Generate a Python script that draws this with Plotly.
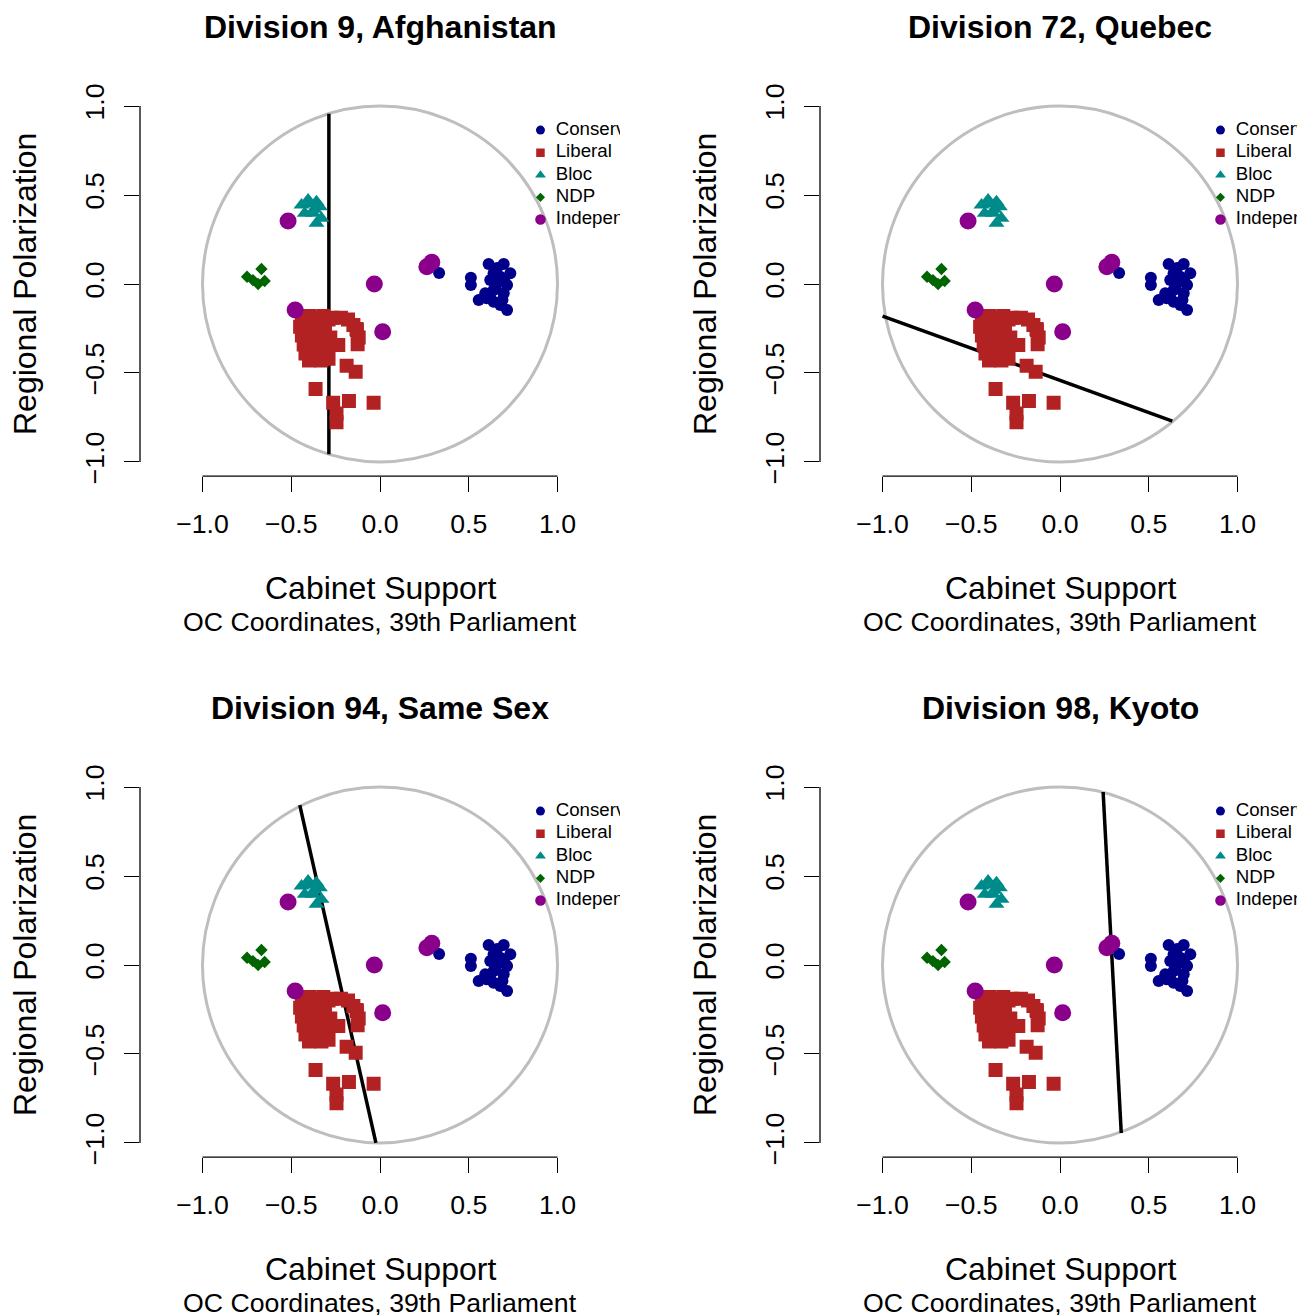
import plotly.graph_objects as go

W, H = 1305, 1315
FONT = "Liberation Sans, Arial, Helvetica, sans-serif"

# ---------------- data ----------------
parties = ["Conservative", "Liberal", "Bloc", "NDP", "Independent"]
party_colors = ["#00008B", "#B22222", "#008B8B", "#006400", "#8B008B"]
party_symbols = ["circle", "square", "triangle-up", "diamond", "circle"]

cons_x = [0.333, 0.512, 0.512, 0.612, 0.697, 0.734, 0.640, 0.659, 0.716, 0.697,
          0.593, 0.556, 0.640, 0.716, 0.678, 0.621, 0.678, 0.640, 0.660, 0.700,
          0.620, 0.690, 0.650, 0.600]
cons_y = [0.062, 0.035, -0.006, 0.112, 0.112, 0.060, 0.060, 0.004, -0.006, -0.052,
          -0.052, -0.090, -0.100, -0.146, -0.118, 0.022, 0.041, -0.034, 0.090, 0.020,
          -0.070, -0.090, -0.020, -0.080]

lib_x = [-0.44, -0.40, -0.36, -0.32, -0.45, -0.41, -0.37, -0.33, -0.29, -0.44,
         -0.40, -0.36, -0.31, -0.43, -0.39, -0.35, -0.31, -0.28, -0.42, -0.38,
         -0.34, -0.30, -0.40, -0.33, -0.29, -0.27, -0.22, -0.18, -0.15, -0.13,
         -0.12, -0.235, -0.126, -0.132, -0.188, -0.137, -0.363, -0.264, -0.175, -0.036,
         -0.245, -0.245]
lib_y = [-0.19, -0.18, -0.19, -0.18, -0.24, -0.23, -0.24, -0.22, -0.20, -0.29,
         -0.28, -0.29, -0.27, -0.34, -0.33, -0.34, -0.33, -0.30, -0.39, -0.38,
         -0.40, -0.38, -0.43, -0.43, -0.42, -0.19, -0.19, -0.20, -0.23, -0.26,
         -0.30, -0.343, -0.339, -0.253, -0.459, -0.493, -0.590, -0.667, -0.657, -0.667,
         -0.727, -0.777]

bloc_x = [-0.405, -0.442, -0.358, -0.339, -0.424, -0.377, -0.358, -0.330, -0.390, -0.370]
bloc_y = [0.472, 0.444, 0.462, 0.434, 0.397, 0.397, 0.341, 0.369, 0.450, 0.420]

ndp_x = [-0.668, -0.749, -0.716, -0.687, -0.650]
ndp_y = [0.084, 0.041, 0.022, 0.000, 0.017]

ind_x = [-0.518, 0.292, 0.264, -0.032, -0.478, 0.015]
ind_y = [0.354, 0.122, 0.097, 0.000, -0.146, -0.268]

party_x = [cons_x, lib_x, bloc_x, ndp_x, ind_x]
party_y = [cons_y, lib_y, bloc_y, ndp_y, ind_y]

division_titles = ["Division 9, Afghanistan", "Division 72, Quebec",
                   "Division 94, Same Sex", "Division 98, Kyoto"]
# cutting line endpoints (OC coordinates)
cut_x0 = [-0.288, -1.000, -0.452, 0.243]
cut_y0 = [0.957, -0.180, 0.899, 0.972]
cut_x1 = [-0.288, 0.633, -0.023, 0.345]
cut_y1 = [-0.957, -0.770, -1.000, -0.944]

tick_vals = [-1.0, -0.5, 0.0, 0.5, 1.0]
x_title = "Cabinet Support"
x_subtitle = "OC Coordinates, 39th Parliament"
y_title = "Regional Polarization"

# ---------------- styles ----------------
marker_sizes = [12, 14, 14, 9.5, 17]
legend_marker_sizes = [9, 8.5, 9.5, 7, 10.5]
legend_marker_x = 0.904
legend_text_x = 0.99
legend_row_y = [0.865, 0.738, 0.612, 0.487, 0.362]

# page offset / effective drawing frame observed in the renderer
OFF_X, OFF_Y = 8, 16
EFF_H = H - OFF_Y

panel_px0 = [140, 820, 140, 820]
panel_pyt = [91.8, 91.8, 772.8, 772.8]
panel_extra_right = [0, 4, 0, 4]
PW, PH = 480, 384.4
SCALE = 177.5
XR = PW / 2 / SCALE
YR = 1.08


def fx(px):
    return (px - OFF_X) / W


def fy(py):
    return 1 - (py - OFF_Y) / EFF_H


fig = go.Figure()
layout = dict(
    width=W, height=H, margin=dict(l=0, r=0, t=0, b=0),
    plot_bgcolor="white", paper_bgcolor="white", showlegend=False,
    font=dict(family=FONT, color="black"),
)
shapes = []
annotations = []

for i in range(4):
    sx = "" if i == 0 else str(i + 1)
    xa, ya = "x" + sx, "y" + sx
    px0, pyt = panel_px0[i], panel_pyt[i]
    extra = panel_extra_right[i]
    axis_common = dict(showgrid=False, zeroline=False, showline=False,
                       ticks="outside", ticklen=15, tickwidth=1.3, tickcolor="black",
                       tickvals=tick_vals, tickformat=".1f",
                       tickfont=dict(size=26.7, family=FONT, color="black"))
    layout["xaxis" + sx] = dict(axis_common, domain=[fx(px0), fx(px0 + PW + extra)],
                                range=[-XR, XR + extra / SCALE], anchor=ya,
                                ticklabelstandoff=9)
    layout["yaxis" + sx] = dict(axis_common, domain=[fy(pyt + PH), fy(pyt)],
                                range=[-YR, YR], anchor=xa, tickangle=-90,
                                ticklabelstandoff=9)
    # reference circle
    shapes.append(dict(type="circle", xref=xa, yref=ya, x0=-1, y0=-1, x1=1, y1=1,
                       line=dict(color="#BEBEBE", width=3), layer="below"))
    # axis lines (R style, spanning only the tick range)
    shapes.append(dict(type="line", xref=xa, yref=ya + " domain", x0=-1, x1=1, y0=0, y1=0,
                       line=dict(color="black", width=1.3)))
    shapes.append(dict(type="line", xref=xa + " domain", yref=ya, x0=0, x1=0, y0=-1, y1=1,
                       line=dict(color="black", width=1.3)))
    # cutting line
    fig.add_trace(go.Scatter(x=[cut_x0[i], cut_x1[i]], y=[cut_y0[i], cut_y1[i]],
                             mode="lines", line=dict(color="black", width=3.5),
                             xaxis=xa, yaxis=ya, hoverinfo="skip"))
    # party points
    for k in range(5):
        fig.add_trace(go.Scatter(x=party_x[k], y=party_y[k], mode="markers",
                                 name=parties[k], xaxis=xa, yaxis=ya,
                                 marker=dict(symbol=party_symbols[k], size=marker_sizes[k],
                                             color=party_colors[k], opacity=1,
                                             line=dict(width=0))))
    # legend markers and (clipped) labels
    fig.add_trace(go.Scatter(x=[legend_marker_x] * 5, y=legend_row_y, mode="markers",
                             xaxis=xa, yaxis=ya, hoverinfo="skip",
                             marker=dict(symbol=party_symbols, size=legend_marker_sizes,
                                         color=party_colors, opacity=1,
                                         line=dict(width=0))))
    fig.add_trace(go.Scatter(x=[legend_text_x] * 5, y=legend_row_y, mode="text",
                             text=parties, textposition="middle right", cliponaxis=True,
                             textfont=dict(size=18.7, family=FONT, color="black"),
                             xaxis=xa, yaxis=ya, hoverinfo="skip"))
    cx = px0 + PW / 2
    annotations.append(dict(text="<b>" + division_titles[i] + "</b>", x=fx(cx), y=fy(pyt - 65),
                            xref="paper", yref="paper", showarrow=False,
                            xanchor="center", yanchor="middle",
                            font=dict(size=32, family=FONT, color="black")))
    annotations.append(dict(text=x_title, x=fx(cx), y=fy(pyt + 496), xref="paper", yref="paper",
                            showarrow=False, xanchor="center", yanchor="middle",
                            font=dict(size=32, family=FONT, color="black")))
    annotations.append(dict(text=x_subtitle, x=fx(cx), y=fy(pyt + 530), xref="paper", yref="paper",
                            showarrow=False, xanchor="center", yanchor="middle",
                            font=dict(size=26.7, family=FONT, color="black")))
    annotations.append(dict(text=y_title, x=fx(px0 - 115), y=fy(pyt + PH / 2), xref="paper",
                            yref="paper", showarrow=False, xanchor="center", yanchor="middle",
                            textangle=-90, font=dict(size=32, family=FONT, color="black")))

layout["shapes"] = shapes
layout["annotations"] = annotations
fig.update_layout(**layout)
fig.write_html("out.html")
